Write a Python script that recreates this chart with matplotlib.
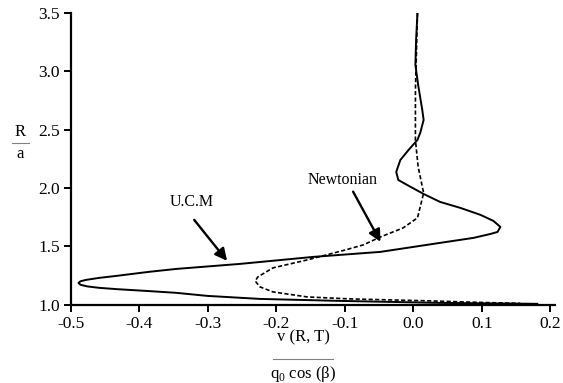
import matplotlib
matplotlib.use("Agg")
import matplotlib.pyplot as plt
from matplotlib.lines import Line2D

plt.rcParams['font.family'] = ['Liberation Serif', 'DejaVu Serif']
plt.rcParams['mathtext.fontset'] = 'custom'
plt.rcParams['mathtext.rm'] = 'Liberation Serif'

# U.C.M profile (solid), read from top to bottom
ucm_v = [0.006, 0.004, 0.003, 0.007, 0.013, 0.015, 0.010, 0.006, -0.007, -0.019,
         -0.025, -0.022, -0.009, 0.015, 0.039, 0.069, 0.098, 0.117, 0.127, 0.123,
         0.113, 0.088, 0.039, -0.048, -0.146, -0.253, -0.346, -0.386, -0.434,
         -0.459, -0.478, -0.486, -0.489, -0.486, -0.476, -0.459, -0.434, -0.386,
         -0.346, -0.301, -0.224, -0.107, 0.039, 0.181]
ucm_r = [3.500, 3.269, 3.055, 2.884, 2.670, 2.584, 2.473, 2.413, 2.327, 2.241,
         2.139, 2.070, 2.027, 1.950, 1.882, 1.830, 1.771, 1.719, 1.668, 1.625,
         1.608, 1.574, 1.531, 1.454, 1.411, 1.351, 1.308, 1.283, 1.248,
         1.231, 1.214, 1.202, 1.188, 1.172, 1.158, 1.146, 1.135, 1.118,
         1.103, 1.077, 1.051, 1.034, 1.017, 1.009]

# Newtonian profile (dashed)
newt_v = [0.006, 0.003, 0.003, 0.007, 0.015, 0.010, 0.006, -0.015, -0.048, -0.073,
          -0.099, -0.155, -0.205, -0.227, -0.231, -0.224, -0.205, -0.155, -0.092,
          0.025, 0.098, 0.156]
newt_r = [3.500, 2.841, 2.413, 2.182, 1.959, 1.839, 1.745, 1.659, 1.582, 1.514,
          1.471, 1.385, 1.317, 1.240, 1.205, 1.154, 1.111, 1.068, 1.051,
          1.034, 1.021, 1.013]

xticks = [-0.5, -0.4, -0.3, -0.2, -0.1, 0.0, 0.1, 0.2]
yticks = [1.0, 1.5, 2.0, 2.5, 3.0, 3.5]

fig = plt.figure(figsize=(5.63, 3.83), dpi=100)
ax = fig.add_axes([0.126, 0.204, 0.86, 0.762])

ax.plot(ucm_v, ucm_r, color='black', lw=1.4, solid_joinstyle='round')
ax.plot(newt_v, newt_r, color='black', lw=1.2, ls=(0, (2.5, 1.4)))

ax.set_xlim(-0.5, 0.207)
ax.set_ylim(1.0, 3.5)
ax.set_xticks(xticks)
ax.set_xticklabels([f"{t:.1f}" for t in xticks])
ax.set_yticks(yticks)
ax.set_yticklabels([f"{t:.1f}" for t in yticks])
ax.tick_params(direction='out', length=5, width=1.4, labelsize=12.5, pad=3)
for s in ['top', 'right']:
    ax.spines[s].set_visible(False)
for s in ['left', 'bottom']:
    ax.spines[s].set_linewidth(1.6)

arrow = dict(arrowstyle='-|>', color='black', lw=1.7, mutation_scale=18, shrinkA=0, shrinkB=0)
ax.annotate('', xy=(-0.272, 1.377), xytext=(-0.320, 1.728), arrowprops=arrow)
ax.text(-0.323, 1.88, 'U.C.M', ha='center', va='center', fontsize=11.5)
ax.annotate('', xy=(-0.048, 1.54), xytext=(-0.088, 1.97), arrowprops=arrow)
ax.text(-0.104, 2.07, 'Newtonian', ha='center', va='center', fontsize=11.5)

# fraction-style axis labels
W, H = 563.0, 383.0
fig.text(20 / W, 1 - 132 / H, 'R', ha='center', va='center', fontsize=12)
fig.text(20 / W, 1 - 154 / H, 'a', ha='center', va='center', fontsize=12)
fig.add_artist(Line2D([12 / W, 29 / W], [1 - 143 / H] * 2, color='gray', lw=0.8))

fig.text(303 / W, 1 - 337 / H, 'v (R, T)', ha='center', va='center', fontsize=12)
fig.text(303 / W, 1 - 374 / H, r'q$_{\rm 0}$ cos (β)', ha='center', va='center', fontsize=12)
fig.add_artist(Line2D([273 / W, 333 / W], [1 - 359 / H] * 2, color='gray', lw=0.8))

fig.savefig('out.png', dpi=100)
